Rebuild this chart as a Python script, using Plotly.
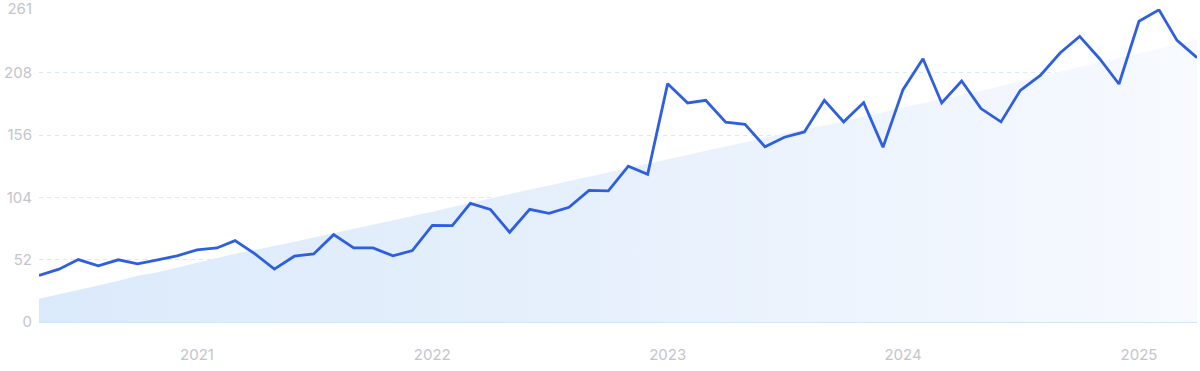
import pandas as pd
import plotly.graph_objects as go

months = pd.date_range("2020-05-01", periods=60, freq="MS")

search_volume = [
    38.8, 44.1, 52.1, 46.9, 51.9, 48.5, 51.9, 55.2, 60.2, 61.8,
    67.9, 56.8, 44.1, 54.9, 56.8, 72.9, 61.8, 61.8, 55.2, 59.6,
    80.7, 80.4, 99.0, 94.0, 74.9, 94.0, 90.7, 95.7, 109.9, 109.5,
    130.1, 123.2, 198.9, 182.8, 185.0, 166.7, 165.0, 146.2, 154.2, 158.6,
    185.0, 167.0, 183.1, 145.9, 193.9, 219.7, 182.8, 201.1, 178.1, 167.0,
    193.3, 205.8, 224.7, 238.3, 219.7, 198.6, 251.0, 260.5, 235.0, 220.6,
]

trend = [
    19.5, 23.0, 26.5, 30.5, 34.5, 38.5, 41.5, 45.5, 50.0, 53.5,
    57.0, 60.0, 63.5, 67.0, 70.5, 74.0, 77.5, 81.5, 85.0, 88.5,
    92.0, 96.0, 99.5, 103.5, 107.0, 110.5, 114.0, 117.5, 121.5, 125.0,
    128.5, 132.0, 136.0, 139.5, 143.0, 146.5, 150.0, 154.0, 157.5, 161.0,
    164.0, 167.5, 171.0, 175.0, 179.0, 182.5, 186.0, 189.5, 193.0, 197.0,
    201.0, 205.0, 209.0, 213.0, 216.5, 220.0, 224.0, 228.0, 232.0, 236.0,
]

y_ticks = [0, 52, 104, 156, 208, 261]
x_tick_dates = ["2021-01-01", "2022-01-01", "2023-01-01", "2024-01-01", "2025-01-01"]
x_tick_labels = ["2021", "2022", "2023", "2024", "2025"]

fig = go.Figure()

fig.add_trace(go.Scatter(
    x=months, y=trend, mode="lines", line=dict(width=0),
    fill="tozeroy",
    fillgradient=dict(
        type="horizontal",
        colorscale=[[0, "rgb(219,234,251)"], [0.5, "rgb(231,240,252)"], [1, "rgb(247,250,255)"]],
    ),
    hoverinfo="skip", showlegend=False,
))

fig.add_trace(go.Scatter(
    x=months, y=search_volume, mode="lines",
    line=dict(color="#2e5fe0", width=2.8),
    showlegend=False,
))

fig.update_layout(
    width=1200, height=371,
    margin=dict(l=39, r=3, t=9, b=49, autoexpand=False),
    paper_bgcolor="white", plot_bgcolor="white",
    font=dict(family="Inter, Open Sans, sans-serif", size=15, color="#c4c5cc"),
)

fig.update_xaxes(
    range=[months[0], months[-1]],
    tickvals=x_tick_dates, ticktext=x_tick_labels,
    showgrid=False, zeroline=False, automargin=False,
    showline=True, linecolor="#cfe6fb", linewidth=1,
    ticks="", ticklabelstandoff=19,
)

fig.update_yaxes(
    range=[0, 261.2], tickvals=y_ticks,
    showgrid=True, gridcolor="#d9e9f8", griddash="4px,4px", gridwidth=1,
    zeroline=False, showline=False, ticks="", ticklabelstandoff=6,
    automargin=False, ticklabeloverflow="allow",
)

fig.write_html(
    "out.html",
    config={"displayModeBar": False},
    post_script="document.body.style.margin='0px';",
)
